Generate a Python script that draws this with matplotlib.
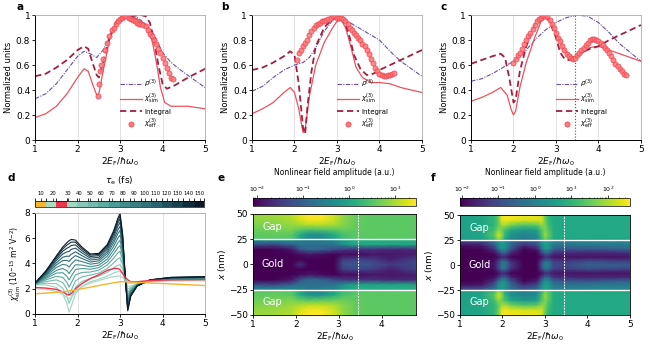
import numpy as np
import matplotlib
matplotlib.use("Agg")
import matplotlib.pyplot as plt
from matplotlib.colors import ListedColormap, BoundaryNorm, LinearSegmentedColormap, Normalize
from matplotlib.cm import ScalarMappable
from matplotlib.lines import Line2D

plt.rcParams['font.family'] = ['DejaVu Sans']
plt.rcParams['font.size'] = 6
plt.rcParams['mathtext.fontset'] = 'dejavusans'

# ---------------- panel a ----------------
a_rho_x = [1.0, 1.25, 1.5, 1.75, 2.0, 2.15, 2.3, 2.45, 2.6, 2.75, 2.9, 3.0, 3.2, 3.4, 3.6, 3.8, 4.0, 4.2, 4.5, 4.75, 5.0]
a_rho_y = [0.33, 0.37, 0.45, 0.56, 0.67, 0.71, 0.69, 0.66, 0.72, 0.82, 0.92, 0.96, 0.99, 0.98, 0.93, 0.84, 0.70, 0.62, 0.54, 0.48, 0.42]
a_sim_x = [1.0, 1.25, 1.5, 1.75, 2.0, 2.15, 2.25, 2.35, 2.45, 2.5, 2.6, 2.75, 2.9, 3.0, 3.2, 3.4, 3.6, 3.75, 3.85, 3.95, 4.05, 4.2, 4.4, 4.6, 4.8, 5.0]
a_sim_y = [0.18, 0.21, 0.27, 0.37, 0.50, 0.57, 0.55, 0.45, 0.36, 0.37, 0.55, 0.80, 0.93, 0.97, 0.99, 0.97, 0.92, 0.80, 0.63, 0.42, 0.30, 0.27, 0.27, 0.27, 0.26, 0.25]
a_int_x = [1.0, 1.25, 1.5, 1.75, 2.0, 2.15, 2.25, 2.35, 2.45, 2.5, 2.6, 2.75, 2.9, 3.0, 3.2, 3.5, 3.6, 3.7, 3.8, 3.9, 4.0, 4.1, 4.3, 4.6, 5.0]
a_int_y = [0.51, 0.53, 0.58, 0.64, 0.72, 0.75, 0.73, 0.62, 0.52, 0.50, 0.62, 0.82, 0.94, 0.98, 0.99, 1.0, 0.99, 0.94, 0.80, 0.60, 0.45, 0.41, 0.44, 0.50, 0.57]
a_eff_x = [2.47, 2.5, 2.53, 2.56, 2.6, 2.65, 2.7, 2.75, 2.8, 2.85, 2.9, 2.95, 3.0, 3.05, 3.1, 3.15, 3.2, 3.25, 3.3, 3.35, 3.4, 3.45, 3.5, 3.55, 3.6, 3.65, 3.7, 3.75, 3.8, 3.85, 3.9, 3.95, 4.0, 4.05, 4.1, 4.15, 4.2, 4.25]
a_eff_y = [0.35, 0.45, 0.55, 0.60, 0.65, 0.72, 0.78, 0.83, 0.88, 0.90, 0.93, 0.95, 0.97, 0.98, 0.99, 0.99, 0.98, 0.97, 0.96, 0.95, 0.94, 0.93, 0.93, 0.92, 0.91, 0.88, 0.85, 0.83, 0.80, 0.77, 0.73, 0.70, 0.66, 0.62, 0.58, 0.54, 0.50, 0.49]

# ---------------- panel b ----------------
b_rho_x = [1.0, 1.25, 1.5, 1.75, 2.0, 2.2, 2.35, 2.5, 2.7, 2.9, 3.0, 3.1, 3.3, 3.5, 3.75, 4.0, 4.25, 4.5, 4.75, 5.0]
b_rho_y = [0.39, 0.43, 0.50, 0.56, 0.60, 0.62, 0.66, 0.74, 0.87, 0.96, 0.98, 0.98, 0.94, 0.90, 0.85, 0.80, 0.71, 0.63, 0.57, 0.51]
b_sim_x = [1.0, 1.25, 1.5, 1.75, 1.9, 2.0, 2.1, 2.2, 2.25, 2.35, 2.5, 2.7, 2.9, 3.0, 3.1, 3.2, 3.3, 3.45, 3.6, 3.8, 4.0, 4.25, 4.5, 4.75, 5.0]
b_sim_y = [0.21, 0.25, 0.30, 0.38, 0.42, 0.38, 0.25, 0.06, 0.08, 0.35, 0.60, 0.78, 0.90, 0.95, 0.96, 0.90, 0.78, 0.58, 0.50, 0.46, 0.46, 0.45, 0.42, 0.40, 0.38]
b_int_x = [1.0, 1.25, 1.5, 1.75, 1.9, 2.0, 2.1, 2.2, 2.25, 2.3, 2.4, 2.5, 2.7, 2.9, 3.0, 3.1, 3.2, 3.3, 3.4, 3.55, 3.7, 3.85, 4.0, 4.25, 4.5, 4.75, 5.0]
b_int_y = [0.56, 0.58, 0.62, 0.67, 0.71, 0.68, 0.45, 0.10, 0.05, 0.25, 0.55, 0.75, 0.90, 0.97, 0.99, 0.98, 0.93, 0.82, 0.68, 0.57, 0.52, 0.53, 0.56, 0.60, 0.64, 0.68, 0.72]
b_eff_x = [2.05, 2.1, 2.15, 2.2, 2.25, 2.3, 2.35, 2.4, 2.45, 2.5, 2.55, 2.6, 2.65, 2.7, 2.75, 2.8, 2.85, 2.9, 2.95, 3.0, 3.05, 3.1, 3.15, 3.2, 3.25, 3.3, 3.35, 3.4, 3.45, 3.5, 3.55, 3.6, 3.65, 3.7, 3.75, 3.8, 3.85, 3.9, 3.95, 4.0, 4.05, 4.1, 4.15, 4.2, 4.25, 4.3, 4.35]
b_eff_y = [0.64, 0.70, 0.72, 0.75, 0.78, 0.80, 0.84, 0.87, 0.90, 0.92, 0.93, 0.94, 0.95, 0.95, 0.96, 0.97, 0.98, 0.99, 0.99, 0.98, 0.98, 0.98, 0.97, 0.95, 0.93, 0.90, 0.88, 0.86, 0.84, 0.82, 0.80, 0.77, 0.75, 0.72, 0.69, 0.65, 0.62, 0.58, 0.55, 0.53, 0.52, 0.51, 0.51, 0.52, 0.52, 0.53, 0.54]

# ---------------- panel c ----------------
c_rho_x = [1.0, 1.25, 1.5, 1.75, 2.0, 2.25, 2.5, 2.75, 3.0, 3.25, 3.5, 3.75, 4.0, 4.25, 4.5, 4.75, 5.0]
c_rho_y = [0.47, 0.49, 0.53, 0.58, 0.63, 0.70, 0.80, 0.88, 0.94, 0.98, 1.0, 0.99, 0.94, 0.86, 0.77, 0.70, 0.63]
c_sim_x = [1.0, 1.25, 1.5, 1.7, 1.85, 1.95, 2.0, 2.05, 2.15, 2.3, 2.5, 2.65, 2.75, 2.85, 3.0, 3.15, 3.3, 3.45, 3.6, 3.8, 4.0, 4.25, 4.5, 4.75, 5.0]
c_sim_y = [0.31, 0.34, 0.38, 0.42, 0.36, 0.24, 0.20, 0.23, 0.42, 0.62, 0.82, 0.95, 0.98, 0.95, 0.86, 0.75, 0.68, 0.66, 0.69, 0.74, 0.75, 0.72, 0.69, 0.66, 0.63]
c_int_x = [1.0, 1.25, 1.5, 1.7, 1.8, 1.9, 2.0, 2.05, 2.15, 2.3, 2.5, 2.65, 2.75, 2.85, 3.0, 3.1, 3.2, 3.3, 3.45, 3.6, 3.8, 4.0, 4.25, 4.5, 4.75, 5.0]
c_int_y = [0.61, 0.64, 0.67, 0.69, 0.66, 0.50, 0.30, 0.32, 0.55, 0.75, 0.92, 0.98, 0.99, 0.95, 0.82, 0.70, 0.65, 0.64, 0.66, 0.70, 0.73, 0.75, 0.80, 0.84, 0.88, 0.92]
c_eff_x = [2.0, 2.05, 2.1, 2.15, 2.2, 2.25, 2.3, 2.35, 2.4, 2.45, 2.5, 2.55, 2.6, 2.65, 2.7, 2.75, 2.8, 2.85, 2.9, 2.95, 3.0, 3.05, 3.1, 3.15, 3.2, 3.25, 3.3, 3.35, 3.4, 3.45, 3.5, 3.55, 3.6, 3.65, 3.7, 3.75, 3.8, 3.85, 3.9, 3.95, 4.0, 4.05, 4.1, 4.15, 4.2, 4.25, 4.3, 4.35, 4.4, 4.45, 4.5, 4.55, 4.6, 4.65]
c_eff_y = [0.62, 0.65, 0.68, 0.70, 0.73, 0.77, 0.80, 0.83, 0.86, 0.89, 0.92, 0.95, 0.97, 0.98, 0.99, 0.99, 0.99, 0.96, 0.93, 0.90, 0.86, 0.82, 0.79, 0.75, 0.72, 0.69, 0.67, 0.66, 0.65, 0.66, 0.68, 0.70, 0.72, 0.74, 0.76, 0.78, 0.80, 0.81, 0.81, 0.80, 0.79, 0.78, 0.76, 0.74, 0.72, 0.70, 0.67, 0.64, 0.61, 0.59, 0.57, 0.55, 0.53, 0.52]

# ---------------- panel d ----------------
d_x = [1.0, 1.25, 1.5, 1.65, 1.75, 1.8, 1.85, 1.95, 2.1, 2.3, 2.5, 2.7, 2.85, 2.95, 3.0, 3.06, 3.12, 3.18, 3.25, 3.4, 3.7, 4.2, 5.0]
d_tau10 = [1.6, 1.65, 1.72, 1.76, 1.8, 1.82, 1.84, 1.9, 2.0, 2.12, 2.25, 2.38, 2.47, 2.52, 2.55, 2.55, 2.55, 2.54, 2.53, 2.5, 2.45, 2.38, 2.25]
d_tau20 = [2.0, 1.95, 1.8, 1.55, 1.3, 1.2, 1.3, 1.75, 2.15, 2.45, 2.65, 2.85, 2.95, 3.0, 3.0, 2.9, 2.7, 2.45, 2.4, 2.5, 2.6, 2.62, 2.62]
d_tau25 = [2.1, 2.05, 1.95, 1.75, 1.55, 1.5, 1.6, 2.0, 2.4, 2.8, 3.1, 3.45, 3.6, 3.6, 3.5, 3.2, 2.9, 2.7, 2.55, 2.55, 2.65, 2.7, 2.72]
d_taus = [30, 40, 50, 60, 70, 80, 90, 100, 110, 120, 130, 140, 150]
d_rows = [
    [2.3, 2.3, 2.1, 1.6, 0.8, 0.15, 0.6, 1.6, 2.2, 2.55, 2.75, 3.0, 3.25, 3.35, 3.35, 3.2, 2.7, 2.2, 2.2, 2.4, 2.55, 2.65, 2.7],
    [2.32, 2.43, 2.4, 2.04, 1.38, 0.83, 1.24, 2.11, 2.57, 2.81, 3.0, 3.3, 3.65, 3.86, 3.9, 3.57, 2.74, 1.97, 2.1, 2.38, 2.57, 2.68, 2.73],
    [2.34, 2.56, 2.7, 2.49, 1.96, 1.51, 1.87, 2.62, 2.94, 3.08, 3.24, 3.6, 4.05, 4.37, 4.45, 3.94, 2.77, 1.73, 2.01, 2.35, 2.59, 2.71, 2.76],
    [2.35, 2.69, 2.98, 2.9, 2.5, 2.13, 2.46, 3.09, 3.29, 3.32, 3.47, 3.88, 4.42, 4.84, 4.96, 4.29, 2.81, 1.52, 1.92, 2.33, 2.6, 2.74, 2.79],
    [2.37, 2.8, 3.23, 3.27, 2.98, 2.69, 2.99, 3.51, 3.6, 3.54, 3.67, 4.13, 4.76, 5.26, 5.42, 4.6, 2.84, 1.32, 1.84, 2.31, 2.62, 2.76, 2.81],
    [2.38, 2.89, 3.45, 3.6, 3.42, 3.2, 3.46, 3.9, 3.87, 3.74, 3.86, 4.35, 5.06, 5.65, 5.83, 4.87, 2.86, 1.15, 1.77, 2.29, 2.63, 2.79, 2.84],
    [2.39, 2.99, 3.68, 3.93, 3.86, 3.71, 3.94, 4.28, 4.15, 3.94, 4.04, 4.58, 5.36, 6.03, 6.25, 5.15, 2.89, 0.97, 1.7, 2.27, 2.64, 2.81, 2.86],
    [2.41, 3.08, 3.88, 4.23, 4.24, 4.16, 4.36, 4.62, 4.4, 4.11, 4.21, 4.78, 5.63, 6.37, 6.62, 5.4, 2.91, 0.82, 1.63, 2.26, 2.66, 2.83, 2.88],
    [2.42, 3.16, 4.05, 4.49, 4.58, 4.56, 4.73, 4.92, 4.62, 4.27, 4.35, 4.95, 5.86, 6.67, 6.94, 5.62, 2.93, 0.68, 1.58, 2.24, 2.67, 2.85, 2.9],
    [2.43, 3.24, 4.23, 4.75, 4.92, 4.95, 5.11, 5.21, 4.84, 4.42, 4.49, 5.13, 6.1, 6.96, 7.26, 5.84, 2.96, 0.54, 1.52, 2.23, 2.68, 2.86, 2.91],
    [2.44, 3.3, 4.38, 4.97, 5.21, 5.29, 5.42, 5.47, 5.02, 4.55, 4.62, 5.28, 6.3, 7.22, 7.54, 6.02, 2.97, 0.43, 1.47, 2.22, 2.69, 2.88, 2.93],
    [2.44, 3.36, 4.5, 5.15, 5.46, 5.57, 5.69, 5.68, 5.18, 4.66, 4.72, 5.4, 6.47, 7.43, 7.77, 6.18, 2.99, 0.33, 1.43, 2.21, 2.69, 2.89, 2.94],
    [2.45, 3.4, 4.6, 5.3, 5.65, 5.8, 5.9, 5.85, 5.3, 4.75, 4.8, 5.5, 6.6, 7.6, 7.95, 6.3, 3.0, 0.25, 1.4, 2.2, 2.7, 2.9, 2.95],
]
d_cbar_ticks = [10, 20, 30, 40, 50, 60, 70, 80, 90, 100, 110, 120, 130, 140, 150]

# ---------------- panel e (log10 amplitude, upper half, mirrored) ----------------
e_x = [1.0, 1.5, 1.9, 2.1, 2.3, 2.6, 2.9, 3.1, 3.4, 3.8, 4.2, 4.8]
e_y = [0, 5, 10, 15, 20, 24, 26, 30, 35, 40, 45, 50]
e_val = [
    [-2.1, -2.1, -2.1, -1.6, -2.1, -2.1, -2.1, -1.2, -1.1, -1.2, -1.5, -1.3],
    [-2.1, -2.1, -2.1, -2.1, -2.1, -2.1, -2.1, -1.5, -1.4, -1.5, -1.8, -1.4],
    [-2.1, -2.1, -2.1, -2.0, -1.9, -2.0, -2.1, -2.0, -2.0, -1.9, -1.9, -1.8],
    [-2.1, -2.1, -1.9, -1.2, -0.9, -1.0, -1.3, -1.5, -1.6, -1.6, -1.7, -1.7],
    [-1.2, -1.3, -1.0, -0.7, -0.8, -0.8, -0.7, -0.3, 0.0, 0.0, 0.0, 0.0],
    [-0.5, -0.5, -0.4, -0.6, -0.7, -0.6, -0.5, -0.1, 0.1, 0.1, 0.1, 0.1],
    [0.5, 0.55, 0.5, 0.0, -0.4, -0.4, 0.0, 0.35, 0.5, 0.55, 0.55, 0.55],
    [0.55, 0.6, 0.55, 0.1, -0.3, -0.3, 0.1, 0.4, 0.55, 0.55, 0.55, 0.55],
    [0.65, 0.7, 0.75, 0.6, 0.5, 0.55, 0.6, 0.65, 0.58, 0.55, 0.55, 0.55],
    [0.75, 0.8, 0.9, 1.0, 1.1, 1.1, 1.0, 0.8, 0.6, 0.55, 0.55, 0.55],
    [0.85, 0.9, 1.0, 1.25, 1.4, 1.4, 1.15, 0.85, 0.6, 0.55, 0.55, 0.55],
    [0.9, 0.95, 1.05, 1.3, 1.45, 1.45, 1.2, 0.9, 0.6, 0.55, 0.55, 0.55],
]
e_range = (-2.1, 1.45)

# ---------------- panel f ----------------
f_x = [1.0, 1.5, 1.8, 1.9, 1.98, 2.06, 2.2, 2.5, 2.8, 2.92, 3.0, 3.08, 3.2, 3.45, 4.0, 5.0]
f_y = [0, 4, 8, 12, 16, 20, 24, 26, 30, 35, 40, 45, 50]
f_val = [
    [-2.05, -2.05, -1.8, -1.0, -0.2, -0.1, -1.2, -2.05, -2.0, -0.8, 0.0, 0.0, -1.0, -1.0, -0.6, -0.7],
    [-2.05, -2.05, -1.9, -1.3, -0.5, -0.4, -1.5, -2.05, -2.05, -1.2, -0.4, -0.4, -1.2, -1.3, -1.0, -1.2],
    [-2.05, -2.05, -2.05, -1.9, -1.6, -1.6, -2.0, -2.05, -2.05, -1.9, -1.5, -1.5, -1.8, -1.8, -1.8, -1.8],
    [-2.05, -2.05, -1.9, -1.4, -0.8, -0.7, -1.6, -2.05, -2.05, -1.3, -0.6, -0.6, -1.4, -1.5, -1.6, -1.5],
    [-2.05, -2.0, -1.4, -0.4, 0.2, 0.2, -0.9, -2.0, -1.7, -0.4, 0.3, 0.3, -0.6, -0.8, -0.8, -0.6],
    [-1.8, -1.7, -0.8, 0.1, 0.5, 0.4, -0.5, -1.4, -1.0, 0.1, 0.6, 0.5, -0.2, -0.3, -0.2, -0.1],
    [-1.0, -0.9, -0.3, 0.3, 0.5, 0.3, -0.3, -0.8, -0.5, 0.3, 0.7, 0.6, 0.1, 0.0, 0.1, 0.1],
    [0.5, 0.6, 1.1, 1.8, 1.5, 0.8, 0.2, -0.1, 0.1, 0.9, 1.6, 1.3, 0.8, 0.7, 0.7, 0.7],
    [0.55, 0.65, 1.4, 2.3, 1.9, 1.0, 0.3, 0.0, 0.2, 1.2, 1.9, 1.5, 0.85, 0.75, 0.75, 0.75],
    [0.6, 0.7, 1.2, 1.8, 1.6, 1.2, 0.7, 0.4, 0.5, 1.3, 1.7, 1.4, 0.8, 0.75, 0.75, 0.75],
    [0.6, 0.7, 1.0, 1.4, 1.9, 2.0, 1.6, 1.3, 1.4, 1.8, 1.7, 1.2, 0.8, 0.75, 0.75, 0.75],
    [0.6, 0.7, 1.0, 1.5, 2.4, 2.5, 2.4, 2.3, 2.3, 2.3, 1.6, 1.1, 0.8, 0.75, 0.75, 0.75],
    [0.6, 0.7, 1.0, 1.5, 2.5, 2.6, 2.55, 2.5, 2.45, 2.3, 1.5, 1.0, 0.8, 0.75, 0.75, 0.75],
]
f_range = (-2.05, 2.6)

marker_line = 3.45

# colours
c_rho = '#6b4fa0'
c_sim = '#f0505f'
c_int = '#a3203f'
c_eff_face = '#ff7b7b'
c_eff_edge = '#ee3a4a'

xlab = r'$2E_{\rm F}/\hbar\omega_0$'

fig = plt.figure(figsize=(6.5, 3.5), dpi=100)


def style_axes(ax):
    for s in ['top', 'right']:
        ax.spines[s].set_color('#aaaaaa')
        ax.spines[s].set_linewidth(0.6)
    for s in ['left', 'bottom']:
        ax.spines[s].set_linewidth(0.7)
    ax.tick_params(length=2, width=0.6, pad=1.5, labelsize=6.5)


def norm_panel(ax, rho, sim, integ, eff, vline=False):
    for xv in [2, 3, 4]:
        ax.axvline(xv, color='#dddddd', lw=0.6, zorder=0)
    if vline:
        ax.axvline(marker_line, color='#555555', lw=0.8, ls=':', zorder=1)
    ax.plot(rho[0], rho[1], color=c_rho, lw=0.8, dashes=(4, 1.2, 1, 1.2))
    ax.plot(sim[0], sim[1], color=c_sim, lw=0.9)
    ax.plot(integ[0], integ[1], color=c_int, lw=1.3, dashes=(3.5, 2))
    ax.plot(eff[0], eff[1], 'o', ms=3.7, mfc=c_eff_face, mec=c_eff_edge, mew=0.5, alpha=0.9)
    ax.set_xlim(1, 5)
    ax.set_ylim(0, 1)
    ax.set_xticks([1, 2, 3, 4, 5])
    ax.set_yticks([0, 0.2, 0.4, 0.6, 0.8, 1])
    ax.set_yticklabels(['0', '0.2', '0.4', '0.6', '0.8', '1'])
    ax.set_xlabel(xlab, fontsize=6.5, labelpad=1)
    ax.set_ylabel('Normalized units', fontsize=6, labelpad=2)
    style_axes(ax)
    handles = [
        Line2D([], [], color=c_rho, lw=0.8, dashes=(4, 1.2, 1, 1.2)),
        Line2D([], [], color=c_sim, lw=0.9),
        Line2D([], [], color=c_int, lw=1.3, dashes=(3.5, 2)),
        Line2D([], [], ls='none', marker='o', ms=3.7, mfc=c_eff_face, mec=c_eff_edge, mew=0.5),
    ]
    labels = [r'$\rho^{(3)}$', r'$\chi^{(3)}_{\rm sim}$', 'Integral', r'$\chi^{(3)}_{\rm eff}$']
    ax.legend(handles, labels, loc='lower left', bbox_to_anchor=(0.47, 0.03), frameon=False,
              fontsize=5, handlelength=3.2, handletextpad=0.3, labelspacing=0.35, borderpad=0.2)


ax_a = fig.add_axes([0.054, 0.6, 0.2615, 0.357])
norm_panel(ax_a, (a_rho_x, a_rho_y), (a_sim_x, a_sim_y), (a_int_x, a_int_y), (a_eff_x, a_eff_y))
ax_b = fig.add_axes([0.3877, 0.6, 0.2615, 0.357])
norm_panel(ax_b, (b_rho_x, b_rho_y), (b_sim_x, b_sim_y), (b_int_x, b_int_y), (b_eff_x, b_eff_y))
ax_c = fig.add_axes([0.7246, 0.6, 0.2615, 0.357])
norm_panel(ax_c, (c_rho_x, c_rho_y), (c_sim_x, c_sim_y), (c_int_x, c_int_y), (c_eff_x, c_eff_y), vline=True)

# ---------------- panel d ----------------
ax_d = fig.add_axes([0.054, 0.103, 0.2615, 0.2886])
for xv in [2, 3, 4]:
    ax_d.axvline(xv, color='#dddddd', lw=0.6, zorder=0)
teal = LinearSegmentedColormap.from_list('teal', ['#9ed5c3', '#4a9c96', '#2a6470', '#0c1a2a'])
teal_cols = [teal(i / (len(d_taus) - 1)) for i in range(len(d_taus))]
c10, c20, c25 = '#f5b52e', '#a9dcc2', '#ea3550'
for row, col in zip(d_rows, teal_cols):
    ax_d.plot(d_x, row, color=col, lw=0.8)
ax_d.plot(d_x, d_tau20, color=c20, lw=0.9)
ax_d.plot(d_x, d_tau25, color=c25, lw=1.0)
ax_d.plot(d_x, d_tau10, color=c10, lw=1.0)
ax_d.set_xlim(1, 5)
ax_d.set_ylim(0, 8)
ax_d.set_xticks([1, 2, 3, 4, 5])
ax_d.set_yticks([0, 2, 4, 6, 8])
ax_d.set_xlabel(xlab, fontsize=6.5, labelpad=1)
ax_d.set_ylabel(r'$\chi^{(3)}_{\rm sim}$ (10$^{-15}$ m$^2$ V$^{-2}$)', fontsize=5.5, labelpad=1)
style_axes(ax_d)

cax_d = fig.add_axes([0.054, 0.408, 0.26, 0.019])
bounds = [3, 15, 22, 29] + list(np.linspace(29, 154, len(d_taus) + 1)[1:])
cmap_d = ListedColormap([c10, c20, c25] + teal_cols)
sm_d = ScalarMappable(norm=BoundaryNorm(bounds, cmap_d.N), cmap=cmap_d)
cb_d = fig.colorbar(sm_d, cax=cax_d, orientation='horizontal', ticks=d_cbar_ticks)
cb_d.outline.set_linewidth(0.5)
cax_d.xaxis.set_ticks_position('top')
cax_d.tick_params(length=2, width=0.5, labelsize=3.8, pad=1)
cax_d.set_title(r'$\tau_{\rm e}$ (fs)', fontsize=6.5, pad=6)


# ---------------- panels e, f ----------------
def field_panel(rect, crect, xs, ys, vals, vrange, xmax, xticks):
    ax = fig.add_axes(rect)
    y_half = np.array(ys, dtype=float)
    v_half = np.array(vals)
    y_full = np.concatenate([-y_half[::-1], y_half[1:]])
    v_full = np.concatenate([v_half[::-1], v_half[1:]], axis=0)
    X, Y = np.meshgrid(xs, y_full)
    ax.pcolormesh(X, Y, v_full, shading='gouraud', cmap='viridis', vmin=vrange[0], vmax=vrange[1],
                  rasterized=True)
    ax.axhline(25, color='white', lw=1.0)
    ax.axhline(-25, color='white', lw=1.0)
    ax.axvline(marker_line, color='white', lw=0.7, ls=(0, (2, 1)), alpha=0.9)
    ax.set_xlim(1, xmax)
    ax.set_ylim(-50, 50)
    ax.set_xticks(xticks)
    ax.set_yticks([-50, -25, 0, 25, 50])
    ax.set_xlabel(xlab, fontsize=6.5, labelpad=1)
    ax.set_ylabel(r'$x$ (nm)', fontsize=6.5, labelpad=1)
    style_axes(ax)
    for s in ax.spines.values():
        s.set_color('black')
        s.set_linewidth(0.6)
    ax.text(1.45, 37, 'Gap', color='white', fontsize=7, va='center', ha='center')
    ax.text(1.45, 0, 'Gold', color='white', fontsize=7, va='center', ha='center')
    ax.text(1.45, -37, 'Gap', color='white', fontsize=7, va='center', ha='center')

    cax = fig.add_axes(crect)
    sm = ScalarMappable(norm=Normalize(vrange[0], vrange[1]), cmap='viridis')
    cb = fig.colorbar(sm, cax=cax, orientation='horizontal')
    cb.outline.set_linewidth(0.5)
    majors = [k for k in range(-4, 4) if vrange[0] <= k <= vrange[1]]
    cb.set_ticks(majors)
    cb.set_ticklabels([r'$10^{%d}$' % k for k in majors])
    minors = [k + np.log10(m) for k in range(-4, 4) for m in range(2, 10)
              if vrange[0] <= k + np.log10(m) <= vrange[1]]
    cax.set_xticks(minors, minor=True)
    cax.xaxis.set_ticks_position('top')
    cax.tick_params(which='major', length=2, width=0.5, labelsize=4.5, pad=1)
    cax.tick_params(which='minor', length=1, width=0.4)
    cax.set_title('Nonlinear field amplitude (a.u.)', fontsize=5.5, pad=7)
    return ax


field_panel([0.389, 0.1, 0.2508, 0.2886], [0.389, 0.411, 0.2508, 0.023],
            e_x, e_y, e_val, e_range, 4.8, [1, 2, 3, 4])
field_panel([0.7077, 0.1, 0.2615, 0.2857], [0.7077, 0.411, 0.2615, 0.023],
            f_x, f_y, f_val, f_range, 5.0, [1, 2, 3, 4, 5])

# panel letters
for lab, xp, yp in [('a', 0.025, 0.995), ('b', 0.34, 0.995), ('c', 0.677, 0.995),
                    ('d', 0.012, 0.505), ('e', 0.335, 0.505), ('f', 0.662, 0.505)]:
    fig.text(xp, yp, lab, fontsize=7.5, fontweight='bold', va='top', ha='left')

fig.savefig('out.png', dpi=100)
